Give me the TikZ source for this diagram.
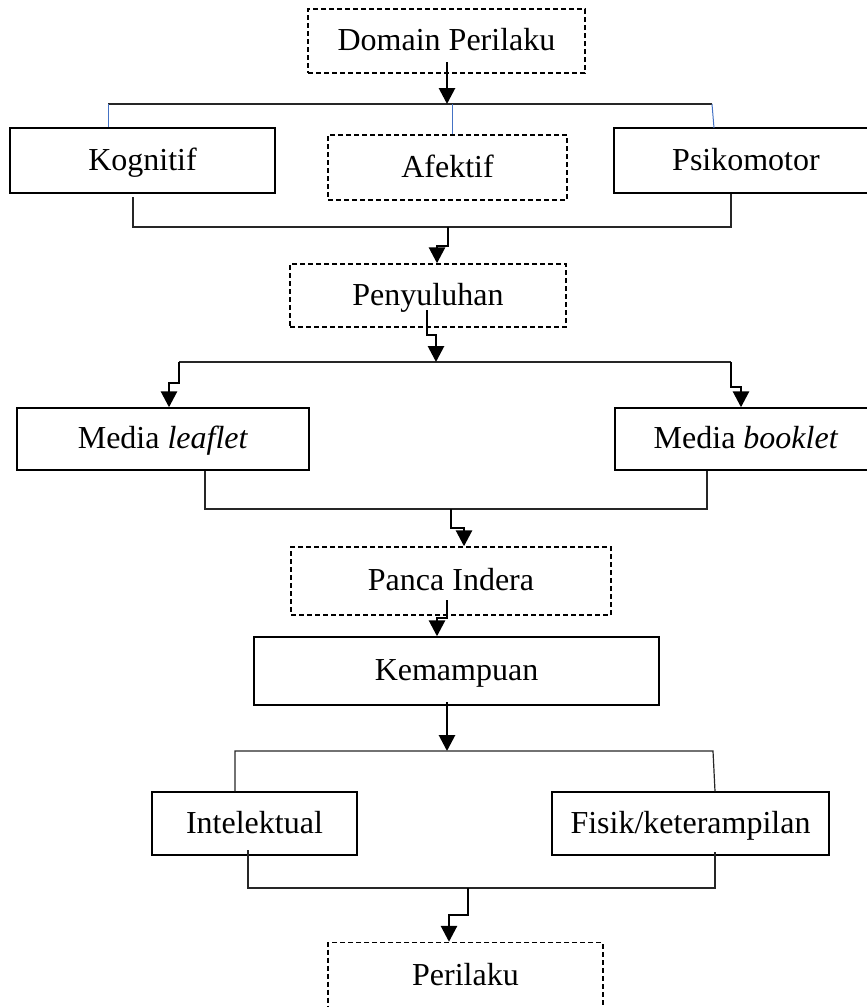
\documentclass[tikz,border=0pt]{standalone}
\usepackage{fontspec}
\setmainfont{Liberation Serif}
\usetikzlibrary{arrows.meta}
\usetikzlibrary{positioning}
\definecolor{wordblue}{RGB}{68,114,196}
\tikzset {
  % solid box
  blok/.style = {
    draw = black,
    line width = 0.7pt,
    inner sep = 0,
    text height = 12.5pt,
    text depth = 3pt,
    font = \fontsize{16}{19}\selectfont
  },
  % dashed box
  dblok/.style = {
    blok,
    dash pattern = on 2.5pt off 1.5pt
  },
  % thin bracket line
  garis/.style = {
    draw = black!85,
    line width = 0.6pt
  },
  bgaris/.style = {
    draw = wordblue,
    line width = 0.5pt
  },
  % thick arrow with jog
  panah/.style = {
    draw = black,
    line width = 1.4pt,
    -{Triangle[width=8pt,length=8pt]}
  }
}

\begin{document}
\begin{tikzpicture}[x=0.5pt, y=-0.5pt]
    \useasboundingbox (0,0) rectangle (867,1007);
    \clip (0,0) rectangle (867,1007);

    \node[dblok, minimum width=138.5pt, minimum height=32pt] (domain) at (446.5,41) {Domain Perilaku};
    \node[blok, minimum width=132.5pt, minimum height=32.5pt] (kognitif) at (142.5,160.5) {Kognitif};
    \node[dblok, minimum width=119.5pt, minimum height=32.5pt] (afektif) at (447.5,167.5) {Afektif};
    \node[blok, minimum width=132pt, minimum height=32.5pt] (psikomotor) at (746,160.5) {Psikomotor};
    \node[dblok, minimum width=138pt, minimum height=31.5pt] (penyuluhan) at (428,295.5) {Penyuluhan};
    \node[blok, minimum width=146pt, minimum height=31pt] (leaflet) at (163,439) {Media \textit{leaflet}};
    \node[blok, minimum width=131pt, minimum height=31pt] (booklet) at (746,439) {Media \textit{booklet}};
    \node[dblok, minimum width=160pt, minimum height=34pt] (panca) at (451,581) {Panca Indera};
    \node[blok, minimum width=202.5pt, minimum height=34pt] (kemampuan) at (456.5,671) {Kemampuan};
    \node[blok, minimum width=102.5pt, minimum height=31.5pt] (intelektual) at (254.5,823.5) {Intelektual};
    \node[blok, minimum width=138.5pt, minimum height=31.5pt] (fisik) at (690.5,823.5) {Fisik/keterampilan};
    \node[dblok, minimum width=137.5pt, minimum height=33.5pt] (perilaku) at (465.5,976) {Perilaku};

    % domain -> three domains
    \coordinate (domain-out) at (447,62);
    \coordinate (bar1-left) at (108,104);
    \coordinate (bar1-mid) at (452,104);
    \coordinate (bar1-right) at (712,104);
    \draw[garis] (bar1-left) -- (bar1-right);
    \draw[bgaris] (bar1-left) -- (bar1-left |- kognitif.north);
    \draw[bgaris] (bar1-mid) -- (bar1-mid |- afektif.north);
    \draw[bgaris] (bar1-right) -- (714,128);
    \draw[panah] (domain-out) -- (domain-out |- bar1-mid);

    % three domains -> penyuluhan
    \coordinate (bar2-left) at (133,227);
    \coordinate (bar2-right) at (731,227);
    \draw[garis] (133,197) -- (bar2-left) -- (bar2-right) -- (bar2-right |- psikomotor.south);
    \coordinate (jog1a) at (448,246);
    \coordinate (jog1b) at (437,246);
    \draw[panah] (jog1a |- bar2-left) -- (jog1a) -- (jog1b) -- (jog1b |- penyuluhan.north);

    % penyuluhan -> media
    \coordinate (pen-out) at (427,310);
    \coordinate (jog2a) at (427,335);
    \coordinate (jog2b) at (436,335);
    \coordinate (bar3-left) at (179,362);
    \coordinate (bar3-right) at (731,362);
    \draw[garis] (bar3-left) -- (bar3-right);
    \draw[panah] (pen-out) -- (jog2a) -- (jog2b) -- (jog2b |- bar3-left);
    \draw[panah] (bar3-left) -- (179,383) -- (169,383) -- (169,408 |- leaflet.north);
    \draw[panah] (bar3-right) -- (731,387) -- (741,387) -- (741,408 |- booklet.north);

    % media -> panca indera
    \coordinate (bar4-left) at (205,509);
    \coordinate (bar4-right) at (707,509);
    \draw[garis] (bar4-left |- leaflet.south) -- (bar4-left) -- (bar4-right) -- (bar4-right |- booklet.south);
    \coordinate (jog3a) at (451,528);
    \coordinate (jog3b) at (464,528);
    \draw[panah] (jog3a |- bar4-left) -- (jog3a) -- (jog3b) -- (jog3b |- panca.north);

    % panca indera -> kemampuan
    \coordinate (pan-out) at (447,600);
    \coordinate (jog4a) at (447,618);
    \coordinate (jog4b) at (437,618);
    \draw[panah] (pan-out) -- (jog4a) -- (jog4b) -- (jog4b |- kemampuan.north);

    % kemampuan -> intelektual, fisik
    \coordinate (kem-out) at (447,702);
    \coordinate (bar5-left) at (235,751);
    \coordinate (bar5-right) at (713,751);
    \draw[panah] (kem-out) -- (kem-out |- bar5-left);
    \draw[garis] (bar5-left |- intelektual.north) -- (bar5-left) -- (bar5-right) -- (715,792 |- fisik.north);

    % intelektual, fisik -> perilaku
    \coordinate (bar6-left) at (248,888);
    \coordinate (bar6-right) at (715,888);
    \draw[garis] (248,850) -- (bar6-left) -- (bar6-right) -- (715,852);
    \coordinate (jog5a) at (468,915);
    \coordinate (jog5b) at (449,915);
    \draw[panah] (jog5a |- bar6-left) -- (jog5a) -- (jog5b) -- (jog5b |- perilaku.north);
\end{tikzpicture}
\end{document}
